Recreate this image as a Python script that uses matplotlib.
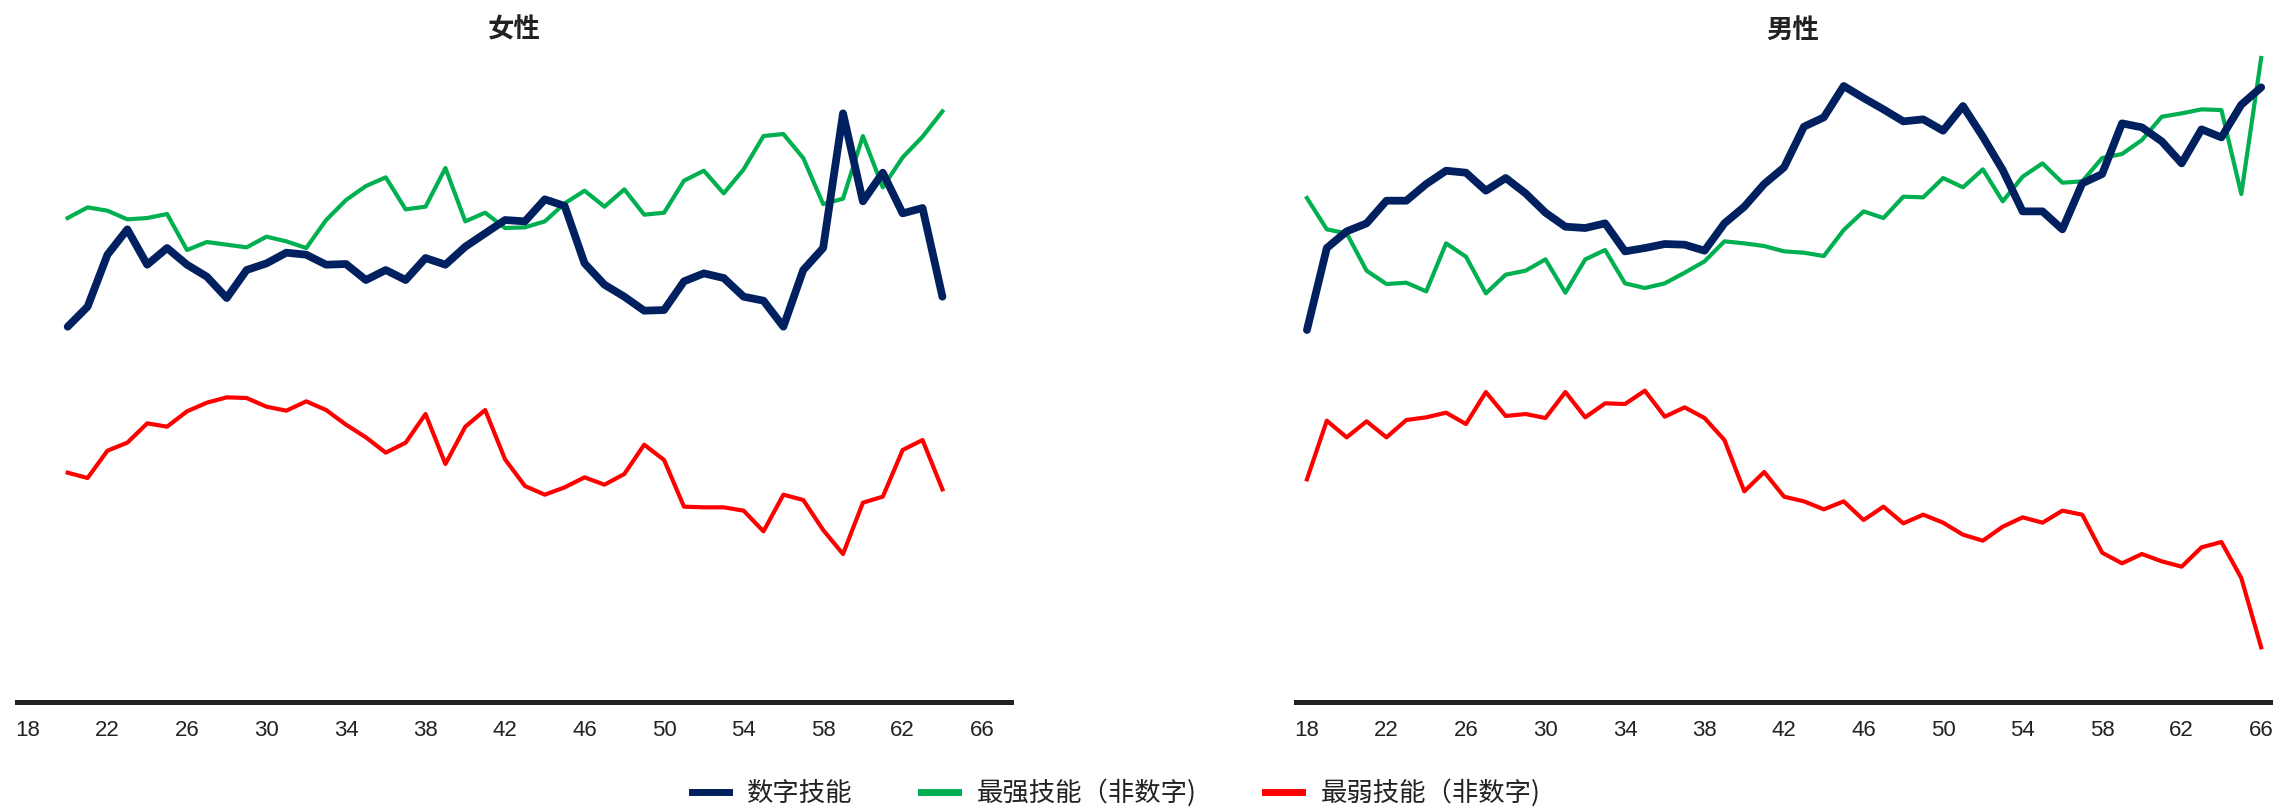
import matplotlib
matplotlib.use("Agg")
import matplotlib.pyplot as plt
from matplotlib.lines import Line2D

# ---------------- data (index units) ----------------
ages_f = list(range(20, 65))
ages_m = list(range(18, 67))

f_digital = [56.3, 59.3, 67.1, 70.9, 65.6, 68.1, 65.6, 63.8, 60.6, 64.8,
             65.8, 67.4, 67.1, 65.6, 65.7, 63.3, 64.8, 63.3, 66.6, 65.6,
             68.3, 70.3, 72.3, 72.1, 75.4, 74.4, 65.8, 62.6, 60.8, 58.7,
             58.8, 63.1, 64.3, 63.6, 60.8, 60.2, 56.3, 64.8, 68.1, 88.3,
             75.1, 79.4, 73.3, 74.1, 60.8]
f_strong = [72.6, 74.2, 73.7, 72.4, 72.6, 73.2, 67.8, 69.0, 68.6, 68.2,
            69.8, 69.1, 68.1, 72.3, 75.3, 77.4, 78.7, 73.9, 74.3, 80.1,
            72.1, 73.4, 71.1, 71.2, 72.1, 74.8, 76.7, 74.3, 76.9, 73.1,
            73.4, 78.2, 79.7, 76.3, 79.9, 84.9, 85.2, 81.6, 74.7, 75.5,
            84.9, 77.2, 81.7, 84.8, 88.6]
f_weak = [34.4, 33.6, 37.7, 38.9, 41.8, 41.3, 43.6, 44.9, 45.7, 45.6,
          44.3, 43.7, 45.1, 43.8, 41.6, 39.7, 37.4, 38.9, 43.2, 35.7,
          41.3, 43.8, 36.4, 32.4, 31.1, 32.2, 33.7, 32.6, 34.2, 38.6,
          36.3, 29.3, 29.2, 29.2, 28.7, 25.6, 31.1, 30.3, 25.8, 22.2,
          29.9, 30.8, 37.8, 39.3, 31.9]

m_digital = [55.8, 68.1, 70.6, 71.8, 75.2, 75.2, 77.7, 79.7, 79.4, 76.7,
             78.6, 76.3, 73.4, 71.3, 71.1, 71.8, 67.6, 68.1, 68.7, 68.6,
             67.7, 71.8, 74.3, 77.7, 80.2, 86.3, 87.7, 92.4, 90.6, 88.9,
             87.1, 87.4, 85.7, 89.4, 84.8, 79.8, 73.6, 73.6, 70.9, 77.8,
             79.2, 86.8, 86.2, 84.1, 80.8, 85.9, 84.7, 89.6, 92.2]
m_strong = [75.6, 70.9, 70.3, 64.7, 62.7, 62.9, 61.6, 68.8, 66.8, 61.3,
            64.1, 64.7, 66.4, 61.4, 66.4, 67.8, 62.8, 62.1, 62.8, 64.4,
            66.1, 69.1, 68.8, 68.4, 67.6, 67.4, 66.9, 70.8, 73.6, 72.6,
            75.8, 75.7, 78.6, 77.2, 79.9, 75.1, 78.8, 80.8, 77.9, 78.1,
            81.6, 82.2, 84.3, 87.8, 88.3, 88.9, 88.8, 76.2, 96.6]
m_weak = [33.4, 42.2, 39.7, 42.1, 39.7, 42.3, 42.7, 43.4, 41.7, 46.5,
          42.9, 43.2, 42.6, 46.5, 42.7, 44.8, 44.7, 46.7, 42.8, 44.2,
          42.6, 39.3, 31.6, 34.5, 30.8, 30.1, 28.9, 30.1, 27.3, 29.3,
          26.8, 28.1, 26.9, 25.1, 24.2, 26.3, 27.7, 26.9, 28.7, 28.1,
          22.4, 20.8, 22.2, 21.1, 20.3, 23.2, 24.0, 18.6, 8.2]

panel_titles = ["女性", "男性"]
series_names = ["数字技能", "最强技能（非数字)", "最弱技能（非数字)"]
xticks = list(range(18, 67, 4))

# ---------------- style ----------------
C_NAVY = "#002060"
C_GREEN = "#00B050"
C_RED = "#FF0000"
AX_COL = "#222222"
CJK = ["Noto Sans CJK SC", "DejaVu Sans"]

W, H = 2273, 808
fig = plt.figure(figsize=(W / 100, H / 100), dpi=100)

def px_axes(x0, x1, y_top, y_bot):
    return [x0 / W, (H - y_bot) / H, (x1 - x0) / W, (y_bot - y_top) / H]

ax_f = fig.add_axes(px_axes(17, 1011, 48.7, 702))
ax_m = fig.add_axes(px_axes(1296, 2290, 48.7, 702))

panels = [
    (ax_f, ages_f, f_digital, f_strong, f_weak, panel_titles[0]),
    (ax_m, ages_m, m_digital, m_strong, m_weak, panel_titles[1]),
]

for ax, ages, dig, strong, weak, title in panels:
    ax.plot(ages, strong, color=C_GREEN, lw=3.0, solid_joinstyle="round", zorder=2)
    ax.plot(ages, weak, color=C_RED, lw=3.0, solid_joinstyle="round", zorder=2)
    ax.plot(ages, dig, color=C_NAVY, lw=5.6, solid_capstyle="round",
            solid_joinstyle="round", zorder=3)
    ax.set_xlim(17.45, 67.45)
    ax.set_ylim(0, 98)
    ax.set_yticks([])
    ax.set_xticks(xticks)
    ax.set_xticklabels([str(t) for t in xticks], family="Liberation Sans",
                       fontsize=16, color="#222222")
    ax.tick_params(axis="x", length=0, pad=13)
    for s in ["top", "right", "left"]:
        ax.spines[s].set_visible(False)
    ax.spines["bottom"].set_color(AX_COL)
    ax.spines["bottom"].set_linewidth(3.6)
    ax.set_title(title, family=CJK, fontsize=19, fontweight="bold",
                 color="#222222", pad=8)
    ax.patch.set_alpha(0)

handles = [Line2D([0], [0], color=c, lw=5) for c in (C_NAVY, C_GREEN, C_RED)]
fig.legend(handles, series_names, loc="center", bbox_to_anchor=(0.491, 0.0186),
           ncol=3, frameon=False, prop={"family": CJK, "size": 19},
           handlelength=1.4, handletextpad=0.7, columnspacing=2.6,
           labelcolor="#222222")

fig.savefig("out.png", dpi=100)
